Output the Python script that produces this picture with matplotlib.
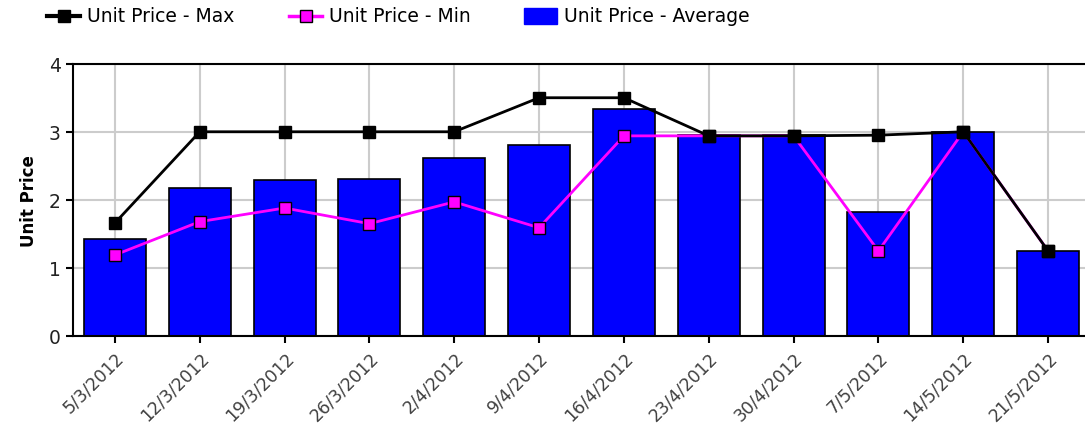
import matplotlib
matplotlib.use("Agg")
import matplotlib.pyplot as plt
from matplotlib.lines import Line2D
from matplotlib.patches import Rectangle
import numpy as np

dates = ["5/3/2012", "12/3/2012", "19/3/2012", "26/3/2012", "2/4/2012", "9/4/2012",
         "16/4/2012", "23/4/2012", "30/4/2012", "7/5/2012", "14/5/2012", "21/5/2012"]
avg_price = [1.42, 2.17, 2.29, 2.31, 2.62, 2.80, 3.34, 2.95, 2.95, 1.82, 3.00, 1.25]
max_price = [1.66, 3.00, 3.00, 3.00, 3.00, 3.50, 3.50, 2.94, 2.94, 2.95, 3.00, 1.25]
min_price = [1.19, 1.68, 1.88, 1.65, 1.97, 1.59, 2.94, 2.94, 2.94, 1.25, 3.00, 1.25]
labels = ["Unit Price - Max", "Unit Price - Min", "Unit Price - Average"]

W, H = 1085, 427
fig = plt.figure(figsize=(W / 100, H / 100), dpi=100)
ax = fig.add_axes([72.5 / W, 1 - 337 / H, (1090.5 - 72.5) / W, (337 - 64.7) / H])

x = np.arange(len(dates))
ax.bar(x, avg_price, width=0.73, color="#0000FF", edgecolor="black", linewidth=1.2, zorder=2)
ax.plot(x, min_price, color="#FF00FF", linewidth=2, marker="s", markersize=8,
        markerfacecolor="#FF00FF", markeredgecolor="black", markeredgewidth=1, zorder=3)
ax.plot(x, max_price, color="black", linewidth=2, marker="s", markersize=9,
        markerfacecolor="black", markeredgecolor="black", zorder=4)

ax.set_xlim(-0.5, 11.5)
ax.set_ylim(0, 4)
ax.set_yticks([0, 1, 2, 3, 4])
ax.set_xticks(x)
ax.set_xticklabels(dates, rotation=45, ha="right", rotation_mode="anchor",
                   fontsize=12.5, color="#404040")
ax.tick_params(axis="y", labelsize=13.5, colors="black", labelcolor="#222222", length=5, width=1.5)
ax.tick_params(axis="x", length=5, width=1.5, pad=4)
ax.grid(True, color="#cccccc", linewidth=1.5, zorder=0)
ax.set_axisbelow(True)
ax.spines["right"].set_visible(False)
for s in ["left", "top", "bottom"]:
    ax.spines[s].set_linewidth(1.5)
ax.set_ylabel("Unit Price", fontsize=12, fontweight="bold", labelpad=8)

# Legend drawn in figure pixel coordinates
def fx(px):
    return px / W

def fy(py):
    return 1 - py / H

ly = 17
fig.add_artist(Line2D([fx(47), fx(80)], [fy(ly), fy(ly)], color="black", linewidth=3,
                      transform=fig.transFigure))
fig.add_artist(Line2D([fx(63.5)], [fy(ly)], color="black", marker="s", markersize=9,
                      transform=fig.transFigure))
fig.add_artist(Line2D([fx(289), fx(322)], [fy(ly), fy(ly)], color="#FF00FF", linewidth=2.5,
                      transform=fig.transFigure))
fig.add_artist(Line2D([fx(305.5)], [fy(ly)], color="#FF00FF", marker="s", markersize=8,
                      markerfacecolor="#FF00FF", markeredgecolor="black",
                      transform=fig.transFigure))
fig.add_artist(Rectangle((fx(524), fy(ly + 8)), fx(33), 16 / H, facecolor="#0000FF",
                         edgecolor="#0000FF", transform=fig.transFigure))
for tx, lab in zip([87, 329, 564], labels):
    fig.text(fx(tx), fy(ly), lab, fontsize=13.5, va="center", ha="left", color="black")

fig.savefig("out.png", dpi=100)
